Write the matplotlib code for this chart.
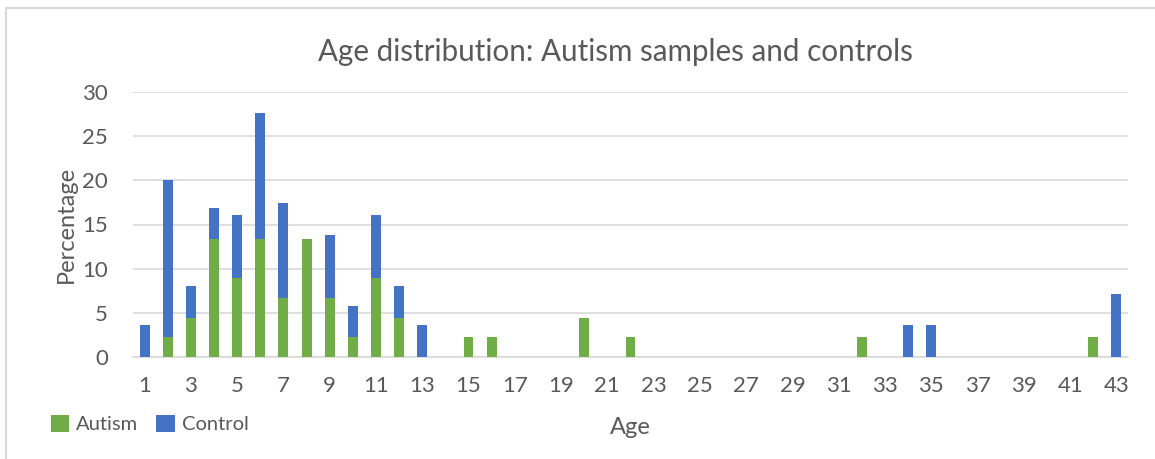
import numpy as np
import matplotlib.pyplot as plt
from matplotlib.patches import Rectangle

# Age categories 1..43 and percentage of each group at that age
ages = list(range(1, 44))
autism = [0, 2.22, 4.44, 13.33, 8.89, 13.33, 6.67, 13.33, 6.67, 2.22,
          8.89, 4.44, 0, 0, 2.22, 2.22, 0, 0, 0, 4.44,
          0, 2.22, 0, 0, 0, 0, 0, 0, 0, 0,
          0, 2.22, 0, 0, 0, 0, 0, 0, 0, 0,
          0, 2.22, 0]
control = [3.57, 17.86, 3.57, 3.57, 7.14, 14.29, 10.71, 0, 7.14, 3.57,
           7.14, 3.57, 3.57, 0, 0, 0, 0, 0, 0, 0,
           0, 0, 0, 0, 0, 0, 0, 0, 0, 0,
           0, 0, 0, 3.57, 3.57, 0, 0, 0, 0, 0,
           0, 0, 7.14]
yticks = [0, 5, 10, 15, 20, 25, 30]

green = '#70AD47'
blue = '#4472C4'
grid_c = '#D9D9D9'
text_c = '#595959'

plt.rcParams['font.family'] = ['Lato', 'DejaVu Sans']

fig = plt.figure(figsize=(11.55, 4.59), dpi=100)
ax = fig.add_axes([133 / 1155, 1 - 357 / 459, 995 / 1155, 265 / 459])

x = np.arange(len(ages))
ax.bar(x, autism, width=0.43, color=green, label='Autism', zorder=3)
ax.bar(x, control, width=0.43, bottom=autism, color=blue, label='Control', zorder=3)

ax.set_xlim(-0.5, len(ages) - 0.5)
ax.set_ylim(0, 30)
ax.set_yticks(yticks)
ax.set_yticklabels([str(v) for v in yticks])
ax.set_xticks(x[::2])
ax.set_xticklabels([str(a) for a in ages[::2]])
ax.tick_params(axis='both', length=0, labelsize=16, colors=text_c)
ax.tick_params(axis='y', pad=18)
ax.tick_params(axis='x', pad=14)
ax.yaxis.grid(True, color=grid_c, linewidth=1.2, zorder=0)
for side in ['top', 'right', 'left']:
    ax.spines[side].set_visible(False)
ax.spines['bottom'].set_color(grid_c)
ax.spines['bottom'].set_linewidth(1.2)

ax.set_xlabel('Age', fontsize=17, color=text_c, labelpad=15)
ax.set_ylabel('Percentage', fontsize=17, color=text_c, labelpad=4)

fig.text(615 / 1155, 1 - 52 / 459, 'Age distribution: Autism samples and controls',
         ha='center', va='center', fontsize=21.3, color=text_c)

leg = fig.legend(loc='center left', bbox_to_anchor=(51 / 1155, 1 - 424 / 459),
                 ncol=2, frameon=False, fontsize=14.5, handlelength=0.9,
                 handleheight=0.9, handletextpad=0.35, columnspacing=0.9,
                 borderpad=0, borderaxespad=0, labelcolor=text_c)

# chart frame
fig.patches.append(Rectangle((6 / 1155, -0.05), 1.2, 1 - 8 / 459 + 0.05,
                             transform=fig.transFigure, fill=False,
                             edgecolor=grid_c, linewidth=1.5))

fig.savefig('out.png', dpi=100)
